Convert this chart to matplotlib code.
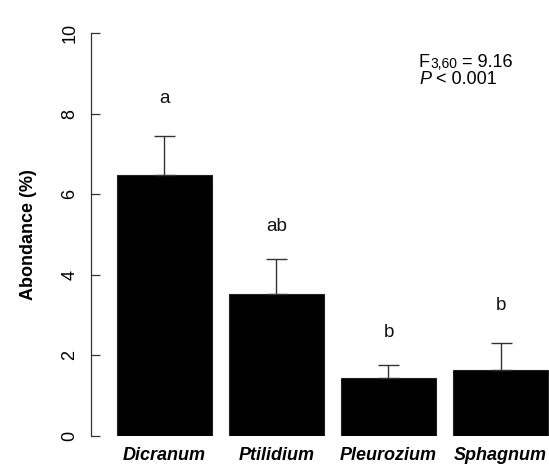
import matplotlib
matplotlib.use("Agg")
import matplotlib.pyplot as plt

plt.rcParams['font.family'] = ['Liberation Sans', 'DejaVu Sans']

categories = ["Dicranum", "Ptilidium", "Pleurozium", "Sphagnum"]
means = [6.47, 3.52, 1.44, 1.65]
errors = [0.97, 0.86, 0.33, 0.66]
letters = ["a", "ab", "b", "b"]
letter_y = [8.37, 5.21, 2.56, 3.25]
yticks = [0, 2, 4, 6, 8, 10]

W, H = 549, 469
fig = plt.figure(figsize=(W / 100, H / 100), dpi=100)
left_px, right_px = 91, 549
bottom_px, top_px = 436, 33
ax = fig.add_axes([left_px / W, (H - bottom_px) / H, (right_px - left_px) / W, (bottom_px - top_px) / H])

x = list(range(len(categories)))
ax.bar(x, means, width=0.85, color='black', edgecolor='#222222', linewidth=0.8, zorder=2)
ax.errorbar(x, means, yerr=[[0] * len(means), errors], fmt='none', ecolor='#333333',
            elinewidth=1.0, capsize=10.5 * 0.72, capthick=1.0, zorder=3)

for xi, lab, ly in zip(x, letters, letter_y):
    ax.text(xi, ly, lab, ha='center', va='center', fontsize=13.5, color='#111111')

ax.set_xlim(-0.656, 3.433)
ax.set_ylim(0, 10)
ax.set_xticks(x)
ax.set_xticklabels(categories, fontsize=13, fontweight='bold', fontstyle='italic')
ax.tick_params(axis='x', length=0, pad=8)
ax.set_yticks(yticks)
ax.set_yticklabels([str(t) for t in yticks], rotation=90, va='center', fontsize=13)
ax.tick_params(axis='y', direction='in', length=6.5, width=0.9, pad=9, color='#333333')
for s in ['top', 'right', 'bottom']:
    ax.spines[s].set_visible(False)
ax.spines['left'].set_color('#333333')
ax.spines['left'].set_linewidth(0.9)
ax.set_ylabel("Abondance (%)", fontsize=13, fontweight='bold')
ax.yaxis.set_label_coords(-0.118, 0.5)

# Statistics annotation
t1 = fig.text(419 / W, 1 - 67 / H, "F", fontsize=13, ha='left', va='baseline')
t2 = ax.annotate("3,60", xy=(1, 0), xycoords=t1, fontsize=10, ha='left', va='bottom')
t3 = ax.annotate(" = 9.16", xy=(1, 0), xycoords=t2, fontsize=13, ha='left', va='bottom')
p1 = fig.text(419 / W, 1 - 83.5 / H, "P", fontsize=13, fontstyle='italic', ha='left', va='baseline')
p2 = ax.annotate(" < 0.001", xy=(1, 0), xycoords=p1, fontsize=13, ha='left', va='bottom')

fig.savefig("out.png", dpi=100, facecolor='white')
